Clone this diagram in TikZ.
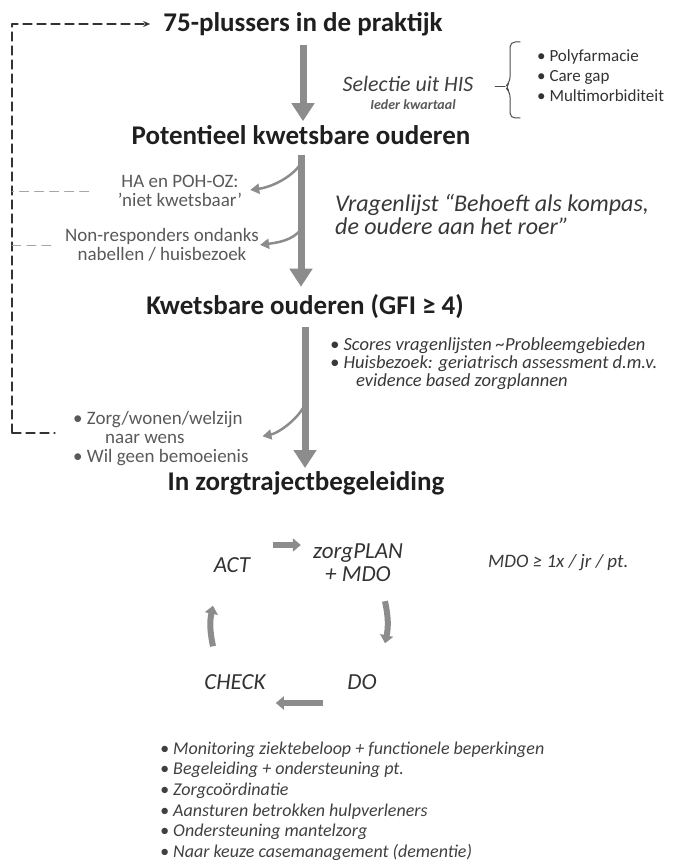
\documentclass[tikz,border=0pt]{standalone}
\usepackage{fontspec}
\setmainfont{Carlito}
\usetikzlibrary{arrows.meta,positioning}
\definecolor{pijlgrijs}{gray}{0.55}
\definecolor{tekstgrijs}{gray}{0.35}
\tikzset{
  kop/.style={font=\fontsize{27}{30}\selectfont\bfseries,text=black!88},
  zijtekst/.style={font=\fontsize{19}{19}\selectfont,text=tekstgrijs,align=center},
  cursief/.style={font=\fontsize{24}{23}\selectfont\itshape,text=black!78,align=left},
  cyc/.style={font=\fontsize{23}{23}\selectfont\itshape,text=black!80,align=center},
  opsomming/.style={font=\fontsize{18}{20.6}\selectfont\itshape,text=black!75,align=left},
  hoofdpijl/.style={draw=pijlgrijs,line width=7pt,line cap=butt,-{Triangle[width=22pt,length=18pt]}},
  zijpijl/.style={draw=pijlgrijs,line width=2.5pt,-{Triangle[width=10pt,length=9pt]}},
  cyclus/.style={draw=pijlgrijs,line width=6pt,line cap=butt,-{Triangle[width=13pt,length=8pt]}},
  terug/.style={draw=black!80,line width=1.3pt,dash pattern=on 9pt off 5pt},
  terugkort/.style={draw=black!35,line width=1pt,dash pattern=on 9pt off 6pt},
  klamp/.style={draw=black!70,line width=1pt,rounded corners=5pt},
  every picture/.style={line cap=round,line join=round}
}

\begin{document}
\begin{tikzpicture}[x=1pt,y=-1pt,every node/.style={inner sep=0pt}]
  \useasboundingbox (0,0) rectangle (683,861);

  \node[kop] (t1) at (303,24) {75-plussers in de praktijk};
  \node[kop] (t2) at (301,135) {Potentieel kwetsbare ouderen};
  \node[kop] (t3) at (305,307) {Kwetsbare ouderen (GFI ≥ 4)};
  \node[kop] (t4) at (306,483) {In zorgtrajectbegeleiding};

  \draw[hoofdpijl,shorten <=9pt,shorten >=4pt] (t1.south) -- (t1.south |- t2.north);
  \draw[hoofdpijl,shorten <=10pt,shorten >=8pt] (t2.south) -- (t2.south |- t3.north);
  \draw[hoofdpijl,shorten <=8pt,shorten >=3pt] (t3.south) -- (t3.south |- t4.north);

  \node[font=\fontsize{22}{22}\selectfont\itshape,text=black!75] (his) at (408,84) {Selectie uit HIS};
  \node[font=\fontsize{14}{14}\selectfont\bfseries\itshape,text=black!65] (kwartaal) at (413,105) {Ieder kwartaal};
  \node[font=\fontsize{17}{20}\selectfont,text=black!80,align=left,anchor=west] (kenmerken) at (537,76)
    {• Polyfarmacie\\• Care gap\\• Multimorbiditeit};
  \draw[klamp] (520,42) -- (510,42) -- (510,82) -- (505,87) -- (510,92) -- (510,118) -- (520,118);
  \draw[klamp] (495,87) -- (505,87);

  \node[zijtekst] (ha) at (180,191) {HA en POH-OZ:\\'niet kwetsbaar'};
  \node[zijtekst] (nr) at (162,245) {Non-responders ondanks\\nabellen / huisbezoek};
  \node[cursief,anchor=west] (vragen) at (335,214) {Vragenlijst “Behoeft als kompas,\\de oudere aan het roer”};

  \coordinate (tak1) at (303,160);
  \coordinate (tak2) at (304,224);
  \coordinate (tak3) at (306,402);
  \draw[zijpijl,shorten >=8pt] (tak1) .. controls +(-8,16) and +(30,-4) .. (ha.east);
  \draw[zijpijl,shorten >=1pt] (tak2) .. controls +(-6,14) and +(24,-3) .. (nr.east);

  \node[font=\fontsize{18.5}{18}\selectfont\itshape,text=black!78,align=left,anchor=west] (scores) at (330,364)
    {• Scores vragenlijsten \textasciitilde Probleemgebieden\\• Huisbezoek: geriatrisch assessment d.m.v.\\\hspace*{26pt}evidence based zorgplannen};

  \node[zijtekst,align=left,anchor=west] (wens) at (73,439)
    {• Zorg/wonen/welzijn\\\hspace*{32pt}naar wens\\• Wil geen bemoeienis};
  \draw[zijpijl,shorten >=14pt] (tak3) .. controls +(-6,16) and +(30,-6) .. (wens.east);

  \coordinate (onder) at (12,433);
  \coordinate[right=43pt of onder] (wens-terug);
  \coordinate[left=29pt of ha.west] (ha-terug);
  \coordinate[left=14pt of nr.west] (nr-terug);
  \draw[terug,-{Stealth[length=7pt,width=6pt]},shorten >=13pt] (onder) |- (t1.west);
  \draw[terug] (onder) -- (wens-terug);
  \draw[terugkort] (ha-terug) -- (ha-terug -| onder);
  \draw[terugkort] (nr-terug) -- (nr-terug -| onder);

  \node[cyc] (act) at (232,565) {ACT};
  \node[cyc] (plan) at (358,563) {zorgPLAN\\+ MDO};
  \node[cyc] (check) at (235,682) {CHECK};
  \node[cyc] (do) at (362,682) {DO};
  \node[font=\fontsize{19}{19}\selectfont\itshape,text=black!78,anchor=west] (mdo) at (488,563) {MDO ≥ 1x / jr / pt.};

  \draw[cyclus] ([xshift=23pt,yshift=20pt]act.east) -- ([xshift=-12pt,yshift=18pt]plan.west);
  \draw[cyclus] ([xshift=27pt,yshift=-19pt]plan.south) to[bend left=12] ([xshift=23pt,yshift=31pt]do.north);
  \draw[cyclus] ([xshift=-24pt,yshift=-21pt]do.west) -- ([xshift=10pt,yshift=-21pt]check.east);
  \draw[cyclus] ([xshift=-22pt,yshift=28pt]check.north) to[bend left=12] ([xshift=-19pt,yshift=-33pt]act.south);

  \node[opsomming,anchor=west] (taken) at (160,801)
    {• Monitoring ziektebeloop + functionele beperkingen\\
     • Begeleiding + ondersteuning pt.\\
     • Zorgcoördinatie\\
     • Aansturen betrokken hulpverleners\\
     • Ondersteuning mantelzorg\\
     • Naar keuze casemanagement (dementie)};
\end{tikzpicture}
\end{document}
